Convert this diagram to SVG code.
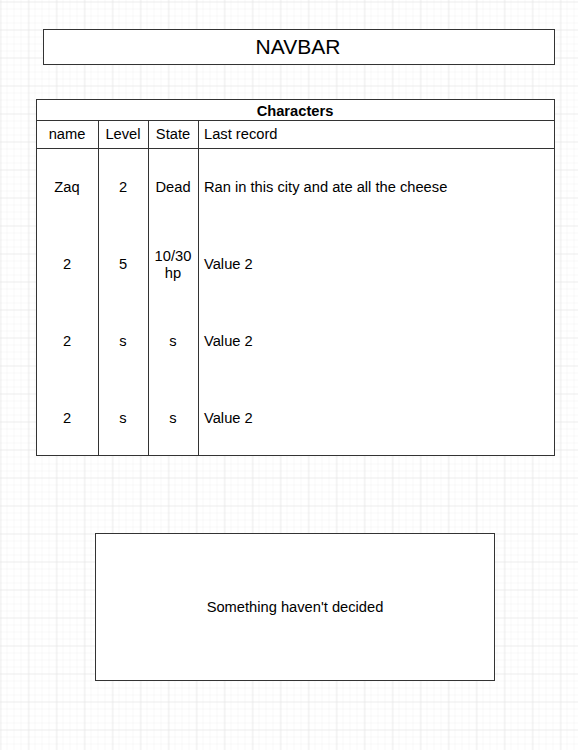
<svg xmlns="http://www.w3.org/2000/svg" width="578" height="750" viewBox="0 0 578 750">
<defs>
<pattern id="minor" width="7" height="7" patternUnits="userSpaceOnUse" x="0" y="1">
<path d="M7 0V7M0 7H7" fill="none" stroke="#f1f1f1" stroke-width="1"/>
</pattern>
<pattern id="major" width="28" height="28" patternUnits="userSpaceOnUse" x="0.5" y="1.5">
<rect width="28" height="28" fill="url(#minor)"/>
<path d="M0 0V28M0 0H28" fill="none" stroke="#e2e2e2" stroke-width="1"/>
</pattern>
<style>
.box{fill:#fff;stroke:#333;stroke-width:1}
.ln{stroke:#333;stroke-width:1;fill:none}
text{font-family:"Liberation Sans",Arial,sans-serif;font-size:14.7px;fill:#000}
.c{text-anchor:middle}
</style>
</defs>
<rect width="578" height="750" fill="#fff"/>
<rect width="578" height="750" fill="url(#major)"/>
<g id="navbar">
<rect class="box" x="43.5" y="29.5" width="511" height="35"/>
<text class="c" x="298" y="53.5" style="font-size:21px">NAVBAR</text>
</g>
<g id="characters">
<rect class="box" x="36.5" y="99.5" width="518" height="356"/>
<line class="ln" x1="36.5" y1="120.5" x2="554.5" y2="120.5"/>
<line class="ln" x1="36.5" y1="148.5" x2="554.5" y2="148.5"/>
<line class="ln" x1="98.5" y1="120.5" x2="98.5" y2="455.5"/>
<line class="ln" x1="148.5" y1="120.5" x2="148.5" y2="455.5"/>
<line class="ln" x1="198.5" y1="120.5" x2="198.5" y2="455.5"/>
<text class="c" x="295" y="115.5" font-weight="bold">Characters</text>
<text class="c" x="67" y="139">name</text>
<text class="c" x="123" y="139">Level</text>
<text class="c" x="173" y="139">State</text>
<text x="204" y="139">Last record</text>
<text class="c" x="67" y="192">Zaq</text>
<text class="c" x="123" y="192">2</text>
<text class="c" x="173" y="192">Dead</text>
<text x="204" y="192">Ran in this city and ate all the cheese</text>
<text class="c" x="67" y="269">2</text>
<text class="c" x="123" y="269">5</text>
<text class="c" x="173" y="261">10/30</text>
<text class="c" x="173" y="278">hp</text>
<text x="204" y="269">Value 2</text>
<text class="c" x="67" y="346">2</text>
<text class="c" x="123" y="346">s</text>
<text class="c" x="173" y="346">s</text>
<text x="204" y="346">Value 2</text>
<text class="c" x="67" y="423">2</text>
<text class="c" x="123" y="423">s</text>
<text class="c" x="173" y="423">s</text>
<text x="204" y="423">Value 2</text>
</g>
<g id="undecided">
<rect class="box" x="95.5" y="533.5" width="399" height="147"/>
<text class="c" x="295" y="612">Something haven't decided</text>
</g>
<g id="connectors"></g>
</svg>
